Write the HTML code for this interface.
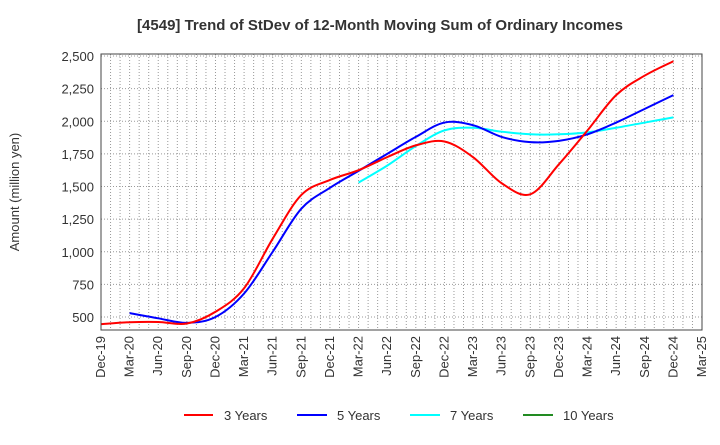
<!DOCTYPE html>
<html><head><meta charset="utf-8"><style>
body{margin:0;background:#fff;}
svg text{font-family:"Liberation Sans",sans-serif;fill:#333;}
</style></head><body>
<svg id="c" width="720" height="440" xmlns="http://www.w3.org/2000/svg">
<text x="380" y="30" text-anchor="middle" font-size="15" font-weight="bold">[4549]  Trend of StDev of 12-Month Moving Sum of Ordinary Incomes</text>
<g id="grid"></g>
<g id="yt"></g>
<g id="xt"></g>
<g id="series"></g>
<rect x="101" y="54" width="601" height="276" fill="none" stroke="#444" stroke-width="1"/>
<text transform="translate(19,192) rotate(-90)" text-anchor="middle" font-size="13">Amount (million yen)</text>
<g>
<g><line x1="184" y1="415" x2="213" y2="415" stroke="#f00" stroke-width="2"/><text x="224" y="420" font-size="13">3 Years</text></g>
<g><line x1="297" y1="415" x2="327" y2="415" stroke="#00f" stroke-width="2"/><text x="337" y="420" font-size="13">5 Years</text></g>
<g><line x1="410" y1="415" x2="440" y2="415" stroke="#0ff" stroke-width="2"/><text x="450" y="420" font-size="13">7 Years</text></g>
<g><line x1="523" y1="415" x2="553" y2="415" stroke="#228b22" stroke-width="2"/><text x="563" y="420" font-size="13">10 Years</text></g>
</g>
</svg>
<script>
const xLabels=["Dec-19","Mar-20","Jun-20","Sep-20","Dec-20","Mar-21","Jun-21","Sep-21","Dec-21","Mar-22","Jun-22","Sep-22","Dec-22","Mar-23","Jun-23","Sep-23","Dec-23","Mar-24","Jun-24","Sep-24","Dec-24","Mar-25"];
const yTicks=[500,750,1000,1250,1500,1750,2000,2250,2500];
const s3=[445,460,462,450,540,720,1100,1435,1550,1625,1725,1815,1845,1725,1525,1440,1670,1930,2200,2350,2460];
const s5=[null,530,490,455,500,680,1000,1330,1490,1620,1750,1880,1990,1970,1880,1840,1850,1900,1990,2095,2200];
const s7=[null,null,null,null,null,null,null,null,null,1530,1660,1810,1930,1950,1920,1900,1900,1915,1950,1990,2030];
const s10=[];
const NS="http://www.w3.org/2000/svg";
const L=101,R=702,T=54,B=330;
const xq=i=>L+i*3*(R-L)/63;
const xm=m=>L+m*(R-L)/63;
const y=v=>317-(v-500)*(317-56)/2000;
function mk(t,a,p){const e=document.createElementNS(NS,t);for(const k in a)e.setAttribute(k,a[k]);p.appendChild(e);return e;}
const g=document.getElementById('grid');
for(let m=1;m<63;m++){const l=mk('line',{x1:xm(m),x2:xm(m),y1:T,y2:B,stroke:'#999','stroke-dasharray':'1,2'},g);

}
const yt=document.getElementById('yt');
yTicks.forEach(v=>{const l=mk('line',{x1:L,x2:R,y1:y(v),y2:y(v),stroke:'#999','stroke-dasharray':'1,2'},g);


const t=mk('text',{x:94,y:y(v)+5,'text-anchor':'end','font-size':13},yt);t.textContent=v.toLocaleString('en-US');

});
const xt=document.getElementById('xt');
xLabels.forEach((s,i)=>{const x=xq(i);const t=mk('text',{transform:`translate(${x+4},336) rotate(-90)`,'text-anchor':'end','font-size':13},xt);t.textContent=s;

});
function path(arr,col,name){const pts=[];arr.forEach((v,i)=>{if(v!=null)pts.push([xq(i),y(v)]);});if(pts.length<2)return;
let d=`M${pts[0][0]},${pts[0][1]}`;
for(let i=0;i<pts.length-1;i++){const p0=pts[Math.max(0,i-1)],p1=pts[i],p2=pts[i+1],p3=pts[Math.min(pts.length-1,i+2)];
const c1=[p1[0]+(p2[0]-p0[0])/6,p1[1]+(p2[1]-p0[1])/6],c2=[p2[0]-(p3[0]-p1[0])/6,p2[1]-(p3[1]-p1[1])/6];
d+=` C${c1[0]},${c1[1]} ${c2[0]},${c2[1]} ${p2[0]},${p2[1]}`;}
const e=mk('path',{d:d,fill:'none',stroke:col,'stroke-width':2},document.getElementById('series'));

}
path(s7,'#0ff','line-7-years');
path(s5,'#00f','line-5-years');
path(s3,'#f00','line-3-years');
path(s10,'#228b22','line-10-years');
</script>
</body></html>
